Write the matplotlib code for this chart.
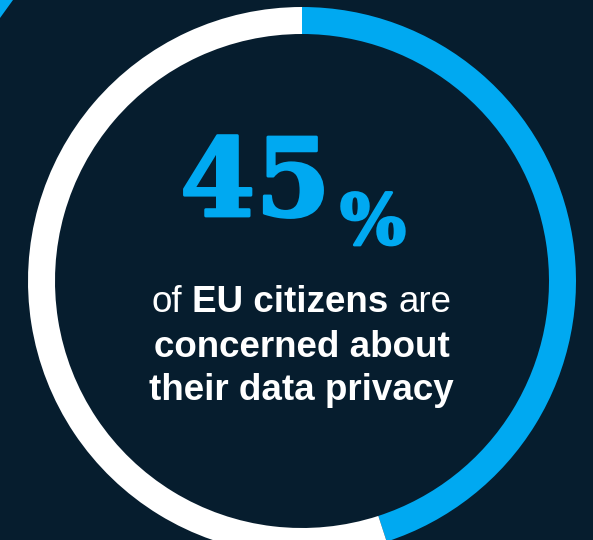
import matplotlib
import matplotlib.pyplot as plt
import matplotlib.patheffects as pe
from matplotlib.patches import Polygon

matplotlib.use('agg')

# data
share_values = [45, 55]
share_colors = ['#00a9f1', '#ffffff']
big_number = "45"
big_unit = "%"
line_parts = [("of", 'normal'), ("EU citizens", 'bold'), ("are", 'normal')]
lines_bold = ["concerned about", "their data privacy"]

BG = '#061d2e'
BLUE = '#00a9f1'
W, H = 593, 540

fig = plt.figure(figsize=(W / 100, H / 100), dpi=100, facecolor=BG)
ax = fig.add_axes([0, 0, 1, 1])
ax.set_facecolor(BG)

# ring, clockwise from 12 o'clock
cx, cy, r = 302, 259, 274
ax.pie(share_values, colors=share_colors, startangle=90, counterclock=False,
       radius=r, center=(cx, cy), wedgeprops={'width': 27, 'linewidth': 0})

# corner piece of a neighbouring ring
ax.add_patch(Polygon([(0, H), (13, H), (0, H - 18)], closed=True, color=BLUE, lw=0))

ax.set_xlim(0, W)
ax.set_ylim(0, H)
ax.set_aspect('auto')
ax.axis('off')

# big number
heavy = [pe.withStroke(linewidth=2, foreground=BLUE)]
ax.text(331, H - 216, big_number, ha='right', va='baseline', color=BLUE,
        fontsize=78, fontweight='bold', family='DejaVu Serif', path_effects=heavy)
ax.text(340, H - 244, big_unit, ha='left', va='baseline', color=BLUE,
        fontsize=50, fontweight='bold', family='DejaVu Serif', path_effects=heavy)

# caption
fs = 26.5
font = 'Liberation Sans'
renderer = fig.canvas.get_renderer()
space = fs * 100 / 72 * 0.278
texts = []
for s, wgt in line_parts:
    t = ax.text(0, H - 312, s, ha='left', va='baseline', color='white',
                fontsize=fs, fontweight=wgt, family=font)
    texts.append(t)
widths = [t.get_window_extent(renderer).width for t in texts]
total = sum(widths) + space * (len(widths) - 1)
x = 301.5 - total / 2
for t, w in zip(texts, widths):
    t.set_x(x)
    x += w + space

for s, y in zip(lines_bold, [357, 400]):
    ax.text(301.5, H - y, s, ha='center', va='baseline', color='white',
            fontsize=fs, fontweight='bold', family=font)

fig.savefig('out.png', dpi=100, facecolor=BG)
plt.close()
